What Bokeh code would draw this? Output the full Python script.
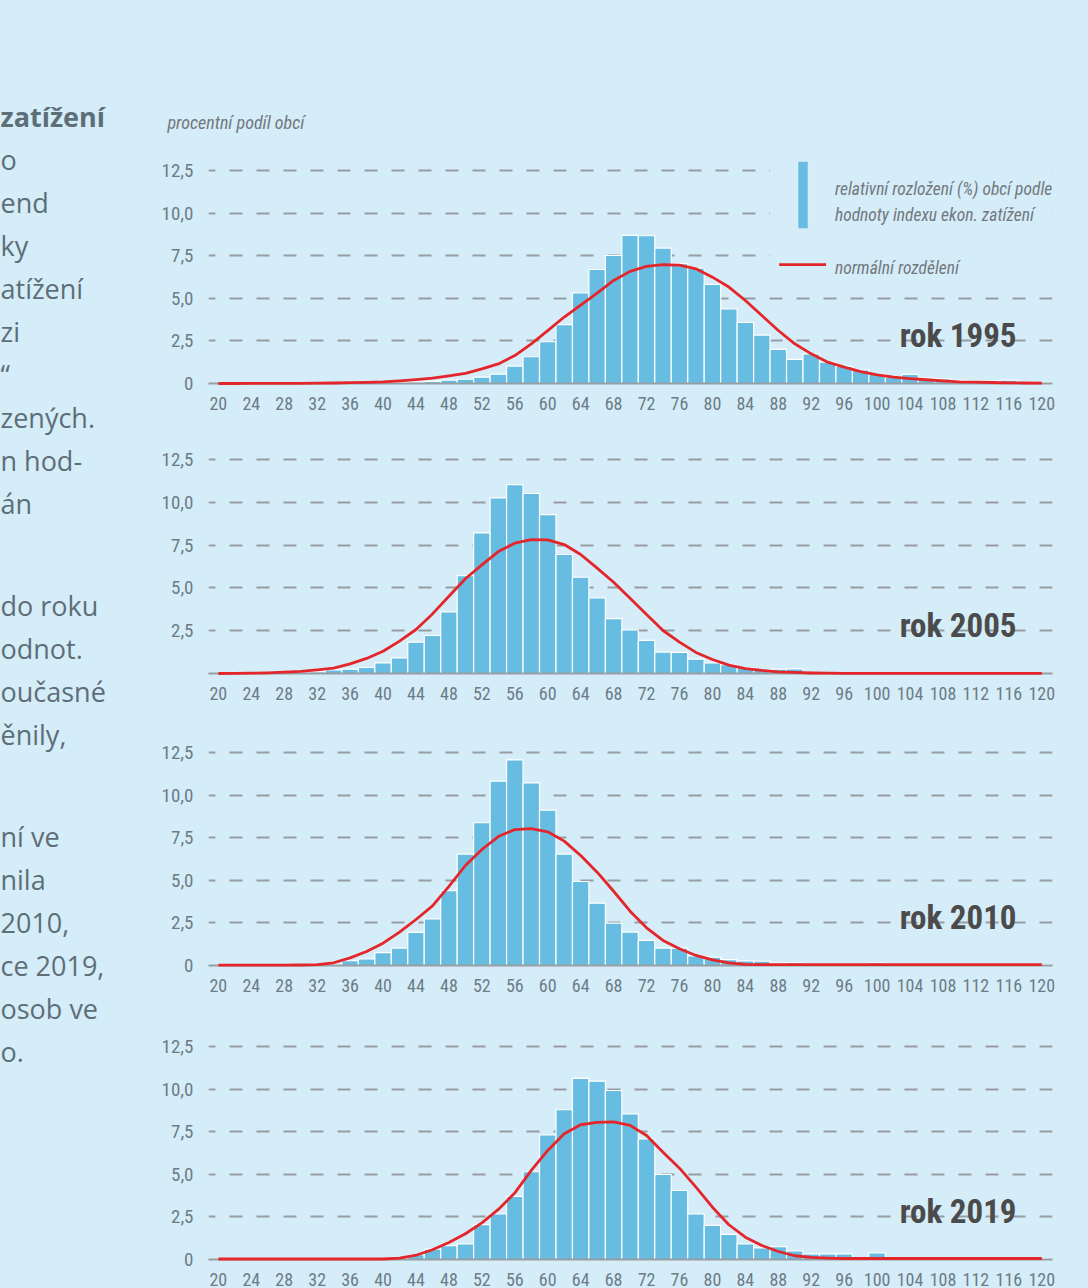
from bokeh.plotting import figure
from bokeh.layouts import row, column
from bokeh.models import Range1d, FixedTicker, Label, BoxAnnotation, ColumnDataSource
from bokeh.core.properties import value
from bokeh.embed import file_html
from bokeh.resources import INLINE

# ---------------- data ----------------
BINS = list(range(20, 122, 2))          # class centres of the index
X_TICKS = list(range(20, 124, 4))
Y_TICKS = [0, 2.5, 5, 7.5, 10, 12.5]
Y_TICK_LABELS = {0: "0", 2.5: "2,5", 5: "5,0", 7.5: "7,5", 10: "10,0", 12.5: "12,5"}

YEARS = ["rok 1995", "rok 2005", "rok 2010", "rok 2019"]

bars_1995 = [0, 0, 0, 0, 0, 0.01, 0.01, 0.02, 0.02, 0.03, 0.04, 0.05, 0.08, 0.12, 0.2, 0.25,
             0.37, 0.55, 1.02, 1.57, 2.45, 3.46, 5.32, 6.69, 7.51, 8.69, 8.67, 7.95, 7.03, 6.77,
             5.81, 4.38, 3.58, 2.84, 2.0, 1.41, 1.74, 1.25, 1.0, 0.8, 0.53, 0.37, 0.53, 0.31,
             0.27, 0.18, 0.14, 0.14, 0.2, 0.1, 0.06]
curve_1995 = [0, 0, 0.01, 0.01, 0.01, 0.01, 0.02, 0.03, 0.05, 0.07, 0.1, 0.16, 0.23, 0.31, 0.45,
              0.6, 0.86, 1.15, 1.64, 2.33, 3.1, 3.9, 4.6, 5.3, 6.05, 6.58, 6.87, 6.97, 6.95, 6.73,
              6.24, 5.66, 4.87, 3.99, 3.11, 2.33, 1.74, 1.25, 0.96, 0.7, 0.51, 0.37, 0.29, 0.22,
              0.16, 0.1, 0.08, 0.06, 0.04, 0.03, 0.02]

bars_2005 = [0, 0, 0, 0, 0, 0, 0.1, 0.21, 0.25, 0.35, 0.62, 0.91, 1.83, 2.22, 3.6, 5.72, 8.21,
             10.25, 11.03, 10.51, 9.28, 6.95, 5.62, 4.42, 3.21, 2.55, 1.93, 1.25, 1.23, 0.84,
             0.62, 0.51, 0.33, 0.21, 0.25, 0.27, 0, 0, 0, 0, 0, 0, 0, 0, 0, 0, 0, 0, 0, 0, 0]
curve_2005 = [0, 0.01, 0.02, 0.04, 0.08, 0.13, 0.21, 0.31, 0.56, 0.88, 1.3, 1.89, 2.57, 3.48,
              4.51, 5.53, 6.34, 7.12, 7.61, 7.82, 7.8, 7.53, 6.95, 6.15, 5.33, 4.4, 3.44, 2.51,
              1.83, 1.23, 0.82, 0.49, 0.29, 0.18, 0.1, 0.06, 0.03, 0.02, 0.01, 0.01, 0.01, 0.01,
              0.01, 0.01, 0.01, 0.01, 0.01, 0.01, 0.01, 0.01, 0.01]

bars_2010 = [0, 0, 0, 0, 0, 0, 0, 0.05, 0.29, 0.39, 0.76, 1.02, 1.94, 2.74, 4.4, 6.54, 8.38,
             10.82, 12.07, 10.72, 9.12, 6.54, 4.93, 3.66, 2.49, 1.96, 1.47, 1.02, 1.02, 0.57,
             0.49, 0.35, 0.27, 0.25, 0.14, 0.16, 0.05, 0.05, 0.04, 0.04, 0.16, 0.03, 0.03, 0.03,
             0.03, 0.03, 0.03, 0.03, 0.03, 0.03, 0.03]
curve_2010 = [0.02, 0.02, 0.02, 0.02, 0.02, 0.03, 0.05, 0.16, 0.45, 0.82, 1.31, 1.96, 2.7, 3.5,
              4.64, 5.87, 6.81, 7.57, 7.98, 8.04, 7.85, 7.3, 6.46, 5.48, 4.36, 3.19, 2.21, 1.47,
              0.98, 0.59, 0.33, 0.16, 0.07, 0.05, 0.05, 0.05, 0.05, 0.05, 0.05, 0.05, 0.05,
              0.05, 0.05, 0.05, 0.05, 0.05, 0.05, 0.05, 0.05, 0.05, 0.05]

bars_2019 = [0, 0, 0, 0, 0, 0, 0, 0, 0, 0, 0, 0.03, 0.29, 0.61, 0.82, 0.92, 2.05, 2.68, 3.7,
             5.15, 7.32, 8.79, 10.63, 10.47, 9.92, 8.55, 7.08, 4.99, 4.05, 2.68, 2.0, 1.47, 0.92,
             0.68, 0.76, 0.51, 0.33, 0.33, 0.33, 0.05, 0.39, 0.03, 0.03, 0.03, 0.03, 0.03, 0.03,
             0.03, 0.03, 0.03, 0.03]
curve_2019 = [0.03, 0.03, 0.03, 0.03, 0.03, 0.03, 0.03, 0.03, 0.03, 0.03, 0.03, 0.08, 0.25,
              0.57, 1.0, 1.51, 2.15, 2.94, 3.91, 5.23, 6.4, 7.38, 7.91, 8.05, 8.08, 7.87, 7.28,
              6.3, 5.36, 4.25, 3.07, 2.04, 1.31, 0.82, 0.47, 0.22, 0.12, 0.08, 0.06, 0.06, 0.06,
              0.06, 0.06, 0.06, 0.06, 0.06, 0.06, 0.06, 0.06, 0.06, 0.06]

BARS = [bars_1995, bars_2005, bars_2010, bars_2019]
CURVES = [curve_1995, curve_2005, curve_2010, curve_2019]

Y_AXIS_TITLE = "procentní podíl obcí"
LEGEND_BAR = ["relativní rozložení (%) obcí podle", "hodnoty indexu ekon.  zatížení"]
LEGEND_LINE = "normální rozdělení"

# cropped body text at the left edge (visible fragments, paragraph by paragraph)
SIDE_HEAD = "zatížení"
SIDE_PARAS = [
    ["o", "end", "ky", "atížení", "zi", "“", "zených.", "n hod-", "án"],
    ["do roku", "odnot.", "oučasné", "ěnily,"],
    ["ní ve", "nila", "2010,", "ce 2019,", "osob ve", "o."],
]

# ---------------- styles ----------------
BG = "#d5ecf9"
BAR = "#67bde1"
RED = "#e4262b"
GRID = "#979da2"
AXIS = "#979da2"
TICK = "#6d7c86"
LEG = "#72787d"
DARK = "#4b4b4b"
SIDE = "#5e6e77"
COND = "Roboto Condensed"

W_PANEL = 930
X_RANGE = (18.8, 121.3)

# (height, min_border_top, min_border_bottom, y_end)
PANEL_GEOM = [
    (439, 140, 56, 14.26),
    (293, 10, 59, 13.08),
    (294, 10, 61, 13.09),
    (262, 10, 29, 13.09),
]


def make_panel(i):
    h, mt, mb, yend = PANEL_GEOM[i]
    p = figure(width=W_PANEL, height=h, x_range=Range1d(*X_RANGE), y_range=Range1d(0, yend),
               toolbar_location=None, output_backend="svg",
               min_border_left=48, min_border_right=36, min_border_top=mt, min_border_bottom=mb)
    p.background_fill_color = BG
    p.border_fill_color = BG
    p.outline_line_color = None

    if i == 0:
        p.title.text = Y_AXIS_TITLE
        p.title.align = "left"
        p.title.offset = -41
        p.title.standoff = 16
        p.title.text_font = COND
        p.title.text_font_style = "italic"
        p.title.text_font_size = "18px"
        p.title.text_color = LEG

    p.xgrid.visible = False
    p.ygrid.ticker = FixedTicker(ticks=[t for t in Y_TICKS if t > 0])
    p.ygrid.grid_line_color = GRID
    p.ygrid.grid_line_width = 2
    p.ygrid.grid_line_dash = "13 14"
    p.ygrid.grid_line_dash_offset = 6

    yax = p.yaxis[0]
    yax.ticker = FixedTicker(ticks=Y_TICKS if i != 1 else [t for t in Y_TICKS if t > 0])
    yax.major_label_overrides = Y_TICK_LABELS
    yax.axis_line_color = None
    yax.major_tick_line_color = None
    yax.minor_tick_line_color = None
    yax.major_label_standoff = 9
    yax.major_label_text_font = COND
    yax.major_label_text_font_size = "19px"
    yax.major_label_text_color = TICK

    xax = p.xaxis[0]
    xax.ticker = FixedTicker(ticks=X_TICKS)
    xax.axis_line_color = AXIS
    xax.axis_line_width = 2
    xax.major_tick_line_color = None
    xax.minor_tick_line_color = None
    xax.major_label_standoff = 7
    xax.major_label_text_font = COND
    xax.major_label_text_font_size = "18px"
    xax.major_label_text_color = TICK

    if i == 0:
        # legend panel hides the grid behind it
        p.add_layout(BoxAnnotation(left=87, right=X_RANGE[1], bottom=5.7, top=yend,
                                   fill_color=BG, fill_alpha=1, line_color=None, level="underlay"))

    src = ColumnDataSource(dict(x=BINS, top=BARS[i], curve=CURVES[i]))
    p.vbar(x="x", top="top", width=2, source=src, fill_color=BAR, line_color="white",
           line_width=1.2)
    r = p.line(x="x", y="curve", source=src, line_color=RED, line_width=2.8, line_join="round")
    r.level = "overlay"

    p.add_layout(Label(x=116.93, y=2.83, text=YEARS[i], text_align="right",
                       text_baseline="alphabetic", text_font=COND, text_font_style="bold",
                       text_font_size="33px", text_color=DARK))

    if i == 0:
        p.add_layout(BoxAnnotation(left=90.4, right=91.6, bottom=9.1, top=13.03,
                                   fill_color=BAR, fill_alpha=1, line_color="white",
                                   line_width=1, level="overlay"))
        p.add_layout(BoxAnnotation(left=88.1, right=93.8, bottom=6.9, top=7.06,
                                   fill_color=RED, fill_alpha=1, line_color=None,
                                   level="overlay"))
        for txt, yy in zip(LEGEND_BAR + [LEGEND_LINE], [11.44, 9.86, 6.75]):
            p.add_layout(Label(x=94.88, y=yy, text=txt, text_align="left",
                               text_baseline="alphabetic", text_font=COND,
                               text_font_style="italic", text_font_size="17.5px",
                               text_color=LEG))
    return p


panels = [make_panel(i) for i in range(4)]

# ---------------- left cropped text column ----------------
side = figure(width=158, height=1288, x_range=Range1d(0, 158), y_range=Range1d(1288, 0),
              toolbar_location=None, output_backend="svg", min_border=0)
side.axis.visible = False
side.grid.visible = False
side.outline_line_color = None
side.background_fill_color = BG
side.border_fill_color = BG

LINE_STEP = 43
HEAD_BASELINE = 116
PARA_STARTS = [159, 605, 836]
side.text(x=[0], y=[HEAD_BASELINE], text=[SIDE_HEAD], text_align="left",
          text_baseline="alphabetic", text_font=value("Open Sans"), text_font_style="bold",
          text_font_size="27px", text_color=SIDE)
sx, sy, st = [], [], []
for para, y0 in zip(SIDE_PARAS, PARA_STARTS):
    for k, t in enumerate(para):
        sx.append(0)
        sy.append(y0 + k * LINE_STEP)
        st.append(t)
side.text(x=sx, y=sy, text=st, text_align="left", text_baseline="alphabetic",
          text_font=value("Open Sans"), text_font_size="27px", text_color=SIDE)

layout = row(side, column(*panels, spacing=0), spacing=0)

TEMPLATE = """
{% block preamble %}
<style>html, body { margin: 0 !important; padding: 0 !important; background: #d5ecf9; overflow: hidden; }</style>
{% endblock %}
"""

html = file_html(layout, INLINE, title="Index ekonomického zatížení", template=TEMPLATE)
with open("out.html", "w", encoding="utf-8") as f:
    f.write(html)
